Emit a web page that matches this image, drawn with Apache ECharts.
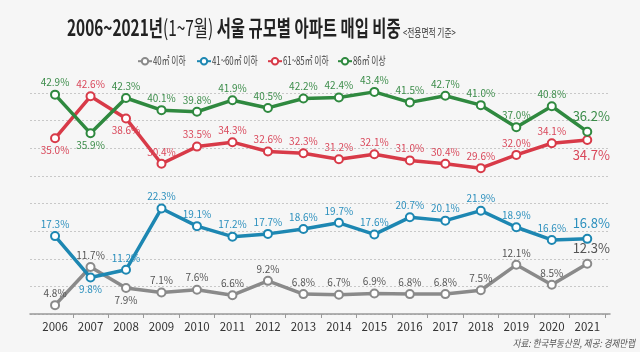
<!DOCTYPE html>
<html><head><meta charset="utf-8">
<script src="https://cdn.jsdelivr.net/npm/echarts@6/dist/echarts.min.js"></script>
<style>html,body{margin:0;padding:0;background:#f6f6f6}#c{width:640px;height:352px}</style>
</head><body><div id="c"></div>
<script>
var years = ['2006','2007','2008','2009','2010','2011','2012','2013','2014','2015','2016','2017','2018','2019','2020','2021'];
var s40 = [4.8, 11.7, 7.9, 7.1, 7.6, 6.6, 9.2, 6.8, 6.7, 6.9, 6.8, 6.8, 7.5, 12.1, 8.5, 12.3];
var s41_60 = [17.3, 9.8, 11.2, 22.3, 19.1, 17.2, 17.7, 18.6, 19.7, 17.6, 20.7, 20.1, 21.9, 18.9, 16.6, 16.8];
var s61_85 = [35.0, 42.6, 38.6, 30.4, 33.5, 34.3, 32.6, 32.3, 31.2, 32.1, 31.0, 30.4, 29.6, 32.0, 34.1, 34.7];
var s86 = [42.9, 35.9, 42.3, 40.1, 39.8, 41.9, 40.5, 42.2, 42.4, 43.4, 41.5, 42.7, 41.0, 37.0, 40.8, 36.2];
var names = ['40㎡ 이하', '41~60㎡ 이하', '61~85㎡ 이하', '86㎡ 이상'];
var titleMain = '2006~2021년', titleParen = '(1~7월)', titleRest = ' 서울 규모별 아파트 매입 비중';
var subTitle = '<전용면적 기준>';
var sourceText = '자료: 한국부동산원, 제공: 경제만랩';
// label positions: indices placed below the point
var below40 = [2], below41 = [1], below61 = [0, 2, 15], below86 = [1];

var KR = '"Noto Sans CJK KR", "Noto Sans", sans-serif';
var colors = ['#8a8a8a', '#1d87b2', '#d83a48', '#2f893f'];
var lblColors = ['#555555', '#2a8fbd', '#d9475a', '#3b8c49'];
var legendIconX = [137, 196, 267, 337];
var legendTextX = [153, 212, 283, 353];
var SX = 0.7;

function mk(name, vals, color, lblColor, belowIdx) {
  var last = vals.length - 1;
  return {
    name: name, type: 'line', xAxisIndex: 0, yAxisIndex: 0, clip: false,
    data: vals.map(function (v, i) {
      var pos = belowIdx.indexOf(i) >= 0 ? 'bottom' : 'top';
      var d = { value: v, label: { position: pos } };
      if (i === last) {
        d.label.fontSize = 13; d.label.offset = [4, pos === 'top' ? -2 : 2];
      }
      return d;
    }),
    symbol: 'circle', symbolSize: 8,
    itemStyle: { color: '#ffffff', borderColor: color, borderWidth: 2 },
    lineStyle: { color: color, width: 3.5 },
    label: { show: true, fontSize: 10, color: lblColor, fontFamily: KR, distance: 2,
      formatter: function (p) { return p.value.toFixed(1) + '%'; } },
    z: 3
  };
}
var graphics = [
  { type: 'text', x: 67, y: 28, scaleX: SX,
    style: { text: '{b|' + titleMain + '}{l|' + titleParen + '}{b|' + titleRest + '}',
      verticalAlign: 'middle',
      rich: {
        b: { fontSize: 22, fontWeight: 'bold', fill: '#222', fontFamily: KR },
        l: { fontSize: 22, fontWeight: 'normal', fill: '#222', fontFamily: KR }
      } } },
  { type: 'text', x: 403, y: 33, scaleX: SX,
    style: { text: subTitle, fontSize: 11, fill: '#333', fontFamily: KR, verticalAlign: 'middle' } },
  { type: 'text', x: 635, y: 343, scaleX: 0.85,
    style: { text: sourceText, fontSize: 10, fontStyle: 'italic', fill: '#555', fontFamily: KR, align: 'right', verticalAlign: 'middle' } }
];
names.forEach(function (n, i) {
  graphics.push({ type: 'text', x: legendTextX[i], y: 61, scaleX: 0.68,
    style: { text: n, fontSize: 11.5, fill: '#444', fontFamily: KR, verticalAlign: 'middle' } });
});

var chart = echarts.init(document.getElementById('c'));
chart.setOption({
  backgroundColor: '#f6f6f6',
  animation: false,
  legend: names.map(function (n, i) {
    return { left: legendIconX[i], top: 57, itemWidth: 14, itemHeight: 8, padding: 0,
      data: [n], formatter: function () { return ''; }, textStyle: { fontSize: 8 } };
  }),
  grid: [
    { left: 37.3, right: 35, top: 93, bottom: 38 },
    { left: 30, right: 30, top: 93, bottom: 38 }
  ],
  xAxis: [
    { type: 'category', gridIndex: 0, data: years, boundaryGap: true,
      axisLine: { show: false },
      axisTick: { show: true, length: 4, lineStyle: { color: '#999' }, interval: function (i) { return i > 0; } },
      axisLabel: { fontSize: 11.5, color: '#333', fontFamily: KR, margin: 7 } },
    { type: 'value', gridIndex: 1, min: 0, max: 1, show: true,
      axisLine: { show: true, onZero: false, lineStyle: { color: '#999', width: 1.5 } },
      axisTick: { show: false }, axisLabel: { show: false }, splitLine: { show: false } }
  ],
  yAxis: [
    { type: 'value', gridIndex: 0, min: 3.2, max: 43.2, show: false, splitLine: { show: false } },
    { type: 'value', gridIndex: 1, min: 0, max: 8, interval: 1,
      axisLine: { show: false }, axisTick: { show: false }, axisLabel: { show: false },
      splitLine: { show: true, lineStyle: { color: '#c8c8c8', type: [2, 2], width: 1 } } }
  ],
  series: [
    mk(names[0], s40, colors[0], lblColors[0], below40),
    mk(names[1], s41_60, colors[1], lblColors[1], below41),
    mk(names[2], s61_85, colors[2], lblColors[2], below61),
    mk(names[3], s86, colors[3], lblColors[3], below86)
  ],
  graphic: graphics
});
</script></body></html>
